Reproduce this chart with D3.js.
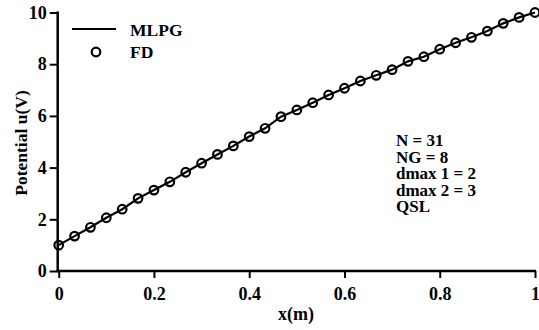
<!DOCTYPE html>
<html>
<head>
<meta charset="utf-8">
<script src="https://cdn.jsdelivr.net/npm/d3@7"></script>
<style>
  html, body { margin: 0; padding: 0; background: #fff; }
  svg { display: block; }
</style>
</head>
<body>
<svg id="chart" width="539" height="330"></svg>
<script>
// ---- data ----
const xValues = d3.range(31).map(i => i / 30);
const mlpgValues = [1.0, 1.35, 1.69, 2.06, 2.39, 2.81, 3.13, 3.45, 3.82, 4.17,
                    4.51, 4.84, 5.2, 5.52, 5.97, 6.23, 6.51, 6.81, 7.07, 7.35,
                    7.57, 7.79, 8.11, 8.29, 8.58, 8.83, 9.04, 9.28, 9.58, 9.81, 10.0];
const fdValues   = [1.0, 1.35, 1.69, 2.06, 2.39, 2.81, 3.13, 3.45, 3.82, 4.17,
                    4.51, 4.84, 5.2, 5.52, 5.97, 6.23, 6.51, 6.81, 7.07, 7.35,
                    7.57, 7.79, 8.11, 8.29, 8.58, 8.83, 9.04, 9.28, 9.58, 9.81, 10.0];
const xTicks = [0, 0.2, 0.4, 0.6, 0.8, 1];
const xTickLabels = ["0", "0.2", "0.4", "0.6", "0.8", "1"];
const yTicks = [0, 2, 4, 6, 8, 10];
const legendLabels = ["MLPG", "FD"];
const annotations = ["N = 31", "NG = 8", "dmax 1 = 2", "dmax 2 = 3", "QSL"];

const FONT = '"Liberation Serif"';

// ---- chart ----
const svg = d3.select("#chart");
const x = d3.scaleLinear().domain([0, 1]).range([58.7, 535]);
const y = d3.scaleLinear().domain([0, 10]).range([271, 12.5]);

function styleText(sel, size) {
  sel.style("font-family", FONT).style("font-weight", "bold").style("font-size", size + "px").attr("fill", "#000");
}

// axes
const xAxis = svg.append("g").attr("transform", `translate(0,${y(0)})`)
  .call(d3.axisBottom(x).tickValues(xTicks).tickFormat((d, i) => xTickLabels[i]).tickSize(7).tickPadding(9));
const yAxis = svg.append("g").attr("transform", `translate(${x(0) - 1},0)`)
  .call(d3.axisLeft(y).tickValues(yTicks).tickFormat(d3.format("d")).tickSize(8).tickPadding(3));
[xAxis, yAxis].forEach(g => {
  g.attr("font-family", null);
  g.select(".domain").remove();
  g.selectAll(".tick line").attr("stroke", "#000").attr("stroke-width", 2);
  styleText(g.selectAll(".tick text"), 18);
});
svg.append("line").attr("x1", x(0) - 1).attr("x2", x(0) - 1).attr("y1", y(10) - 1).attr("y2", y(0) + 1)
  .attr("stroke", "#000").attr("stroke-width", 2.5);
svg.append("line").attr("x1", x(0) - 2).attr("x2", x(1) + 1).attr("y1", y(0)).attr("y2", y(0))
  .attr("stroke", "#000").attr("stroke-width", 2.5);

// axis titles
styleText(svg.append("text").attr("x", 296).attr("y", 320).attr("text-anchor", "middle").text("x(m)"), 18);
styleText(svg.append("text").attr("transform", "translate(27,143) rotate(-90)").attr("text-anchor", "middle")
  .text("Potential u(V)"), 17.5);

// FD circles
svg.append("g").selectAll("circle").data(fdValues).join("circle")
  .attr("cx", (d, i) => x(xValues[i])).attr("cy", d => y(d)).attr("r", 4.3)
  .attr("fill", "none").attr("stroke", "#000").attr("stroke-width", 2.2);

// MLPG line
const line = d3.line().x((d, i) => x(xValues[i])).y(d => y(d));
svg.append("path").datum(mlpgValues).attr("d", line)
  .attr("fill", "none").attr("stroke", "#000").attr("stroke-width", 2.2);

// legend
svg.append("line").attr("x1", 72).attr("x2", 116).attr("y1", 29).attr("y2", 29)
  .attr("stroke", "#000").attr("stroke-width", 2.2);
svg.append("circle").attr("cx", 96).attr("cy", 52).attr("r", 4.3)
  .attr("fill", "none").attr("stroke", "#000").attr("stroke-width", 2.2);
styleText(svg.append("text").attr("x", 130).attr("y", 35.5).text(legendLabels[0]), 17.5);
styleText(svg.append("text").attr("x", 130).attr("y", 57.5).text(legendLabels[1]), 17.5);

// annotation (tight line spacing as in the reference)
styleText(svg.append("g").selectAll("text").data(annotations).join("text")
  .attr("x", 396).attr("y", (d, i) => 146 + i * 16.5).text(d => d), 17);
</script>
</body>
</html>
